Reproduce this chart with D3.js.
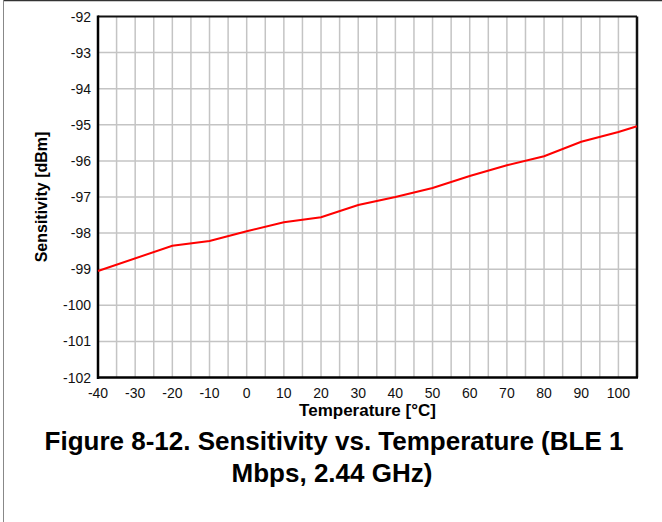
<!DOCTYPE html>
<html>
<head>
<meta charset="utf-8">
<script src="https://cdn.jsdelivr.net/npm/d3@7"></script>
<style>
  body { margin: 0; background: #fff; }
  svg { display: block; font-family: "Liberation Sans", Arial, sans-serif; }
</style>
</head>
<body>
<svg id="chart" width="662" height="522"></svg>
<script>
// temperature [°C] and sensitivity [dBm]
const temps = [-40, -20, -10, 0, 10, 20, 30, 40, 50, 60, 70, 80, 90, 100, 105];
const sens = [-99.05, -98.35, -98.22, -97.95, -97.7, -97.56, -97.22, -97.0, -96.75, -96.42, -96.12, -95.87, -95.47, -95.2, -95.04];

const xTicks = [-40, -30, -20, -10, 0, 10, 20, 30, 40, 50, 60, 70, 80, 90, 100];
const yTicks = [-92, -93, -94, -95, -96, -97, -98, -99, -100, -101, -102];
const xGrid = d3.range(-35, 105, 5);

const svg = d3.select("#chart");
const pLeft = 98, pRight = 637, pTop = 16.5, pBottom = 377.5;

const x = d3.scaleLinear().domain([-40, 105]).range([pLeft, pRight]);
const y = d3.scaleLinear().domain([-102, -92]).range([pBottom, pTop]);

// page frame
svg.append("line").attr("x1", 3).attr("x2", 662).attr("y1", 0.5).attr("y2", 0.5)
  .attr("stroke", "#333").attr("stroke-width", 1.5);
svg.append("line").attr("x1", 3.5).attr("x2", 3.5).attr("y1", 0).attr("y2", 522)
  .attr("stroke", "#888").attr("stroke-width", 1);

// grid
svg.append("g").selectAll("line").data(xGrid).enter().append("line")
  .attr("x1", d => x(d)).attr("x2", d => x(d))
  .attr("y1", pTop).attr("y2", pBottom)
  .attr("stroke", "#c4c4c4").attr("stroke-width", 1.5);
svg.append("g").selectAll("line").data(yTicks.slice(1, -1)).enter().append("line")
  .attr("x1", pLeft).attr("x2", pRight)
  .attr("y1", d => y(d)).attr("y2", d => y(d))
  .attr("stroke", "#c4c4c4").attr("stroke-width", 1.5);

// plot frame
svg.append("line").attr("x1", pLeft).attr("x2", pRight).attr("y1", pTop).attr("y2", pTop)
  .attr("stroke", "#111").attr("stroke-width", 2);
svg.append("line").attr("x1", pRight).attr("x2", pRight).attr("y1", pTop).attr("y2", pBottom)
  .attr("stroke", "#111").attr("stroke-width", 2.5);
svg.append("line").attr("x1", pLeft).attr("x2", pLeft).attr("y1", pTop - 1).attr("y2", pBottom + 1.5)
  .attr("stroke", "#000").attr("stroke-width", 2.5);
svg.append("line").attr("x1", pLeft - 1).attr("x2", pRight + 1).attr("y1", pBottom).attr("y2", pBottom)
  .attr("stroke", "#000").attr("stroke-width", 2.5);

// data line
const line = d3.line().x((d, i) => x(temps[i])).y(d => y(d));
svg.append("path").datum(sens)
  .attr("d", line)
  .attr("fill", "none")
  .attr("stroke", "#ff0000")
  .attr("stroke-width", 2);

// tick labels
svg.append("g").selectAll("text").data(yTicks).enter().append("text")
  .attr("x", pLeft - 7).attr("y", d => y(d) + 5)
  .attr("text-anchor", "end")
  .attr("font-size", 14)
  .attr("fill", "#111")
  .text(d => d);
svg.append("g").selectAll("text").data(xTicks).enter().append("text")
  .attr("x", d => x(d)).attr("y", 398)
  .attr("text-anchor", "middle")
  .attr("font-size", 14)
  .attr("fill", "#111")
  .text(d => d);

// axis titles
svg.append("text")
  .attr("x", (pLeft + pRight) / 2).attr("y", 416)
  .attr("text-anchor", "middle")
  .attr("font-size", 17).attr("font-weight", "bold")
  .text("Temperature [°C]");
svg.append("text")
  .attr("transform", "translate(47, 197) rotate(-90)")
  .attr("text-anchor", "middle")
  .attr("font-size", 16).attr("font-weight", "bold")
  .text("Sensitivity [dBm]");

// caption
svg.append("text")
  .attr("x", 334).attr("y", 450)
  .attr("text-anchor", "middle")
  .attr("font-size", 26).attr("font-weight", "bold")
  .text("Figure 8-12. Sensitivity vs. Temperature (BLE 1");
svg.append("text")
  .attr("x", 332).attr("y", 482)
  .attr("text-anchor", "middle")
  .attr("font-size", 26).attr("font-weight", "bold")
  .text("Mbps, 2.44 GHz)");
</script>
</body>
</html>
